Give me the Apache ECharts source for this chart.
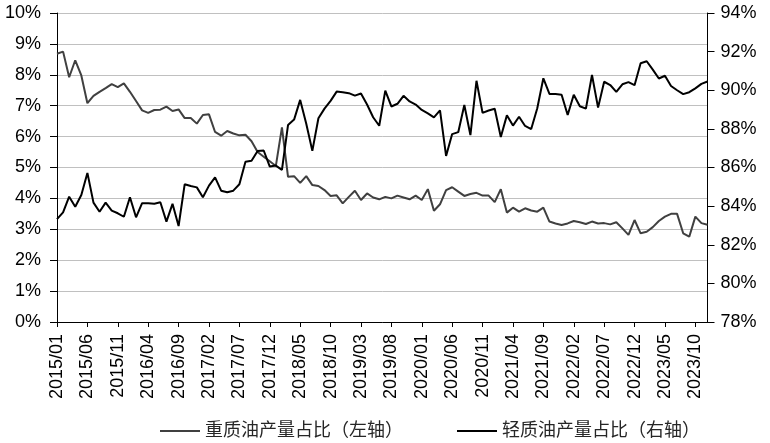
<!DOCTYPE html>
<html>
<head>
<meta charset="utf-8">
<script src="https://cdn.jsdelivr.net/npm/echarts@6/dist/echarts.min.js"></script>
<style>
html,body{margin:0;padding:0;background:#fff;}
#chart{width:770px;height:443px;}
</style>
</head>
<body>
<div id="chart"></div>
<script>
// Months 2015/01 .. 2023/12
const months = [];
for (let y = 2015; y <= 2023; y++) {
  for (let m = 1; m <= 12; m++) {
    months.push(y + '/' + (m < 10 ? '0' + m : m));
  }
}

// 重质油产量占比（左轴）, %
const heavyShare = [
  8.68, 8.75, 7.92, 8.47, 7.98, 7.08, 7.32, 7.45, 7.57, 7.70, 7.60, 7.72,
  7.45, 7.15, 6.85, 6.77, 6.86, 6.87, 6.97, 6.83, 6.88, 6.60, 6.60, 6.42,
  6.70, 6.72, 6.15, 6.03, 6.18, 6.10, 6.04, 6.06, 5.85, 5.50, 5.35, 5.20,
  5.05, 6.30, 4.70, 4.72, 4.50, 4.72, 4.43, 4.40, 4.27, 4.08, 4.10, 3.84,
  4.05, 4.25, 3.95, 4.16, 4.03, 3.97, 4.05, 4.00, 4.09, 4.03, 3.97, 4.09,
  3.95, 4.30, 3.60, 3.81, 4.27, 4.36, 4.22, 4.08, 4.14, 4.18, 4.09, 4.09,
  3.88, 4.30, 3.54, 3.70, 3.57, 3.68, 3.61, 3.57, 3.70, 3.25, 3.19, 3.14,
  3.19, 3.27, 3.23, 3.17, 3.25, 3.19, 3.20, 3.16, 3.23, 3.03, 2.82, 3.30,
  2.87, 2.92, 3.07, 3.27, 3.41, 3.50, 3.50, 2.87, 2.76, 3.41, 3.20, 3.15
];

// 轻质油产量占比（右轴）, %
const lightShare = [
  83.33, 83.68, 84.49, 83.97, 84.58, 85.72, 84.18, 83.71, 84.18, 83.77, 83.63, 83.45,
  84.46, 83.42, 84.15, 84.15, 84.12, 84.20, 83.20, 84.12, 82.97, 85.13, 85.04, 84.97,
  84.46, 85.06, 85.49, 84.80, 84.72, 84.80, 85.13, 86.30, 86.35, 86.85, 86.88, 86.05,
  86.10, 85.88, 88.20, 88.48, 89.50, 88.27, 86.86, 88.55, 89.05, 89.45, 89.93, 89.90,
  89.85, 89.72, 89.83, 89.26, 88.60, 88.16, 89.98, 89.16, 89.30, 89.71, 89.42, 89.26,
  88.98, 88.80, 88.60, 88.96, 86.60, 87.73, 87.83, 89.24, 87.68, 90.49, 88.83, 88.95,
  89.04, 87.58, 88.70, 88.17, 88.63, 88.15, 87.99, 89.07, 90.62, 89.81, 89.80, 89.77,
  88.72, 89.77, 89.17, 89.05, 90.79, 89.10, 90.44, 90.27, 89.92, 90.31, 90.42, 90.26,
  91.40, 91.50, 91.07, 90.61, 90.75, 90.22, 90.00, 89.80, 89.90, 90.10, 90.33, 90.45
];

const seriesNames = ['重质油产量占比（左轴）', '轻质油产量占比（右轴）'];
const leftAxisRange = [0, 10, 1];
const rightAxisRange = [78, 94, 2];

const latin = "'Liberation Sans', Arial, sans-serif";
const cjk = "'Liberation Sans', 'Noto Sans CJK SC', sans-serif";

const chart = echarts.init(document.getElementById('chart'), null, {renderer: 'canvas'});
chart.setOption({
  animation: false,
  backgroundColor: '#ffffff',
  grid: {left: 57, right: 62.5, top: 13, bottom: 121, containLabel: false},
  legend: {
    data: seriesNames,
    left: 155,
    top: 417,
    icon: 'rect',
    itemWidth: 40,
    itemHeight: 2,
    itemGap: 54,
    textStyle: {fontFamily: cjk, fontSize: 18, color: '#262626'}
  },
  xAxis: {
    type: 'category',
    data: months,
    boundaryGap: false,
    axisLine: {lineStyle: {color: '#000', width: 1}},
    axisTick: {interval: 4, length: 5, lineStyle: {color: '#000'}},
    axisLabel: {
      interval: 4, rotate: 90, margin: 12,
      fontFamily: latin, fontSize: 18, color: '#000'
    },
    splitLine: {show: false}
  },
  yAxis: [
    {
      type: 'value',
      min: leftAxisRange[0], max: leftAxisRange[1], interval: leftAxisRange[2],
      axisLine: {show: true, lineStyle: {color: '#000', width: 1}},
      axisTick: {show: true, length: 7, lineStyle: {color: '#000'}},
      axisLabel: {formatter: '{value}%', margin: 16, fontFamily: latin, fontSize: 18, color: '#000'},
      splitLine: {show: true, lineStyle: {color: '#c0c0c0', width: 1}}
    },
    {
      type: 'value',
      position: 'right',
      min: rightAxisRange[0], max: rightAxisRange[1], interval: rightAxisRange[2],
      axisLine: {show: true, lineStyle: {color: '#000', width: 1}},
      axisTick: {show: true, length: 7, lineStyle: {color: '#000'}},
      axisLabel: {formatter: '{value}%', margin: 13, fontFamily: latin, fontSize: 18, color: '#000'},
      splitLine: {show: false}
    }
  ],
  series: [
    {
      name: seriesNames[0], type: 'line', yAxisIndex: 0,
      data: heavyShare, symbol: 'none',
      lineStyle: {color: '#404040', width: 2}, itemStyle: {color: '#404040'}
    },
    {
      name: seriesNames[1], type: 'line', yAxisIndex: 1,
      data: lightShare, symbol: 'none',
      lineStyle: {color: '#000000', width: 2}, itemStyle: {color: '#000000'}
    }
  ]
});
</script>
</body>
</html>
